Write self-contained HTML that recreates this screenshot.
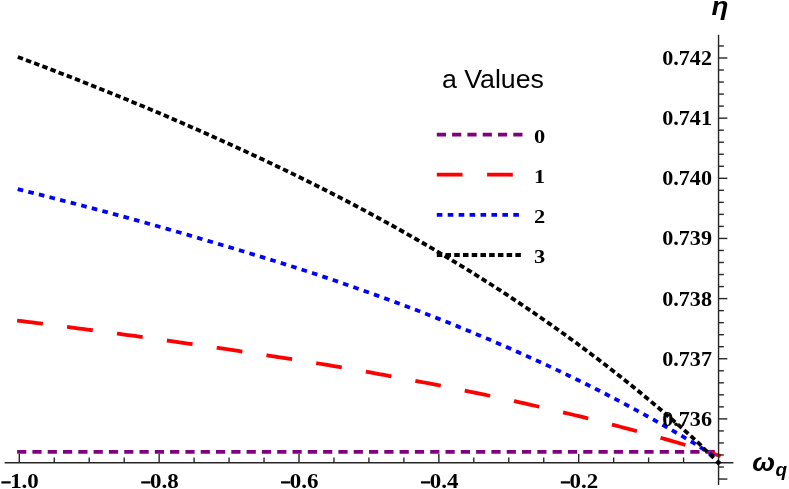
<!DOCTYPE html>
<html><head><meta charset="utf-8"><title>plot</title>
<style>
html,body{margin:0;padding:0;background:#fff;}
body{width:789px;height:489px;overflow:hidden;}
svg{display:block;will-change:transform;}
text{font-family:"Liberation Serif",serif;font-weight:bold;fill:#000;}
.sans{font-family:"Liberation Sans",sans-serif;}
</style></head><body>
<svg width="789" height="489" viewBox="0 0 789 489">
<rect width="789" height="489" fill="#fff"/>

<g fill="none" stroke-linecap="butt" stroke-linejoin="round">
<path d="M17.1,451.85 L718.55,451.85" stroke="#800080" stroke-width="3.8" stroke-dasharray="9.2 6.1"/>
<path d="M17.15,320.59 L22.18,321.21 L27.20,321.84 L32.23,322.46 L37.25,323.10 L42.28,323.73 L47.30,324.37 L52.33,325.01 L57.35,325.65 L62.38,326.30 L67.40,326.95 L72.43,327.61 L77.45,328.26 L82.48,328.92 L87.50,329.59 L92.53,330.25 L97.56,330.92 L102.58,331.60 L107.61,332.27 L112.63,332.95 L117.66,333.63 L122.68,334.32 L127.71,335.01 L132.73,335.70 L137.76,336.40 L142.78,337.10 L147.81,337.80 L152.83,338.51 L157.86,339.22 L162.89,339.93 L167.91,340.65 L172.94,341.37 L177.96,342.09 L182.99,342.82 L188.01,343.55 L193.04,344.29 L198.06,345.02 L203.09,345.77 L208.11,346.51 L213.14,347.25 L218.16,347.99 L223.19,348.74 L228.22,349.48 L233.24,350.23 L238.27,350.98 L243.29,351.73 L248.32,352.48 L253.34,353.23 L258.37,353.99 L263.39,354.76 L268.42,355.52 L273.44,356.30 L278.47,357.07 L283.49,357.85 L288.52,358.64 L293.54,359.43 L298.57,360.23 L303.60,361.04 L308.62,361.85 L313.65,362.67 L318.67,363.50 L323.70,364.33 L328.72,365.18 L333.75,366.03 L338.77,366.89 L343.80,367.76 L348.82,368.64 L353.85,369.52 L358.87,370.41 L363.90,371.30 L368.93,372.20 L373.95,373.10 L378.98,374.01 L384.00,374.93 L389.03,375.85 L394.05,376.78 L399.08,377.72 L404.10,378.66 L409.13,379.61 L414.15,380.56 L419.18,381.53 L424.20,382.50 L429.23,383.47 L434.25,384.45 L439.28,385.44 L444.31,386.44 L449.33,387.44 L454.36,388.46 L459.38,389.48 L464.41,390.50 L469.43,391.54 L474.46,392.58 L479.48,393.63 L484.51,394.69 L489.53,395.75 L494.56,396.83 L499.58,397.91 L504.61,399.00 L509.64,400.10 L514.66,401.21 L519.69,402.33 L524.71,403.45 L529.74,404.59 L534.76,405.73 L539.79,406.89 L544.81,408.05 L549.84,409.22 L554.86,410.41 L559.89,411.60 L564.91,412.80 L569.94,414.01 L574.96,415.24 L579.99,416.47 L585.02,417.71 L590.04,418.97 L595.07,420.23 L600.09,421.51 L605.12,422.79 L610.14,424.09 L615.17,425.40 L620.19,426.72 L625.22,428.05 L630.24,429.40 L635.27,430.75 L640.29,432.12 L645.32,433.50 L650.35,434.89 L655.37,436.30 L660.40,437.71 L665.42,439.14 L670.45,440.59 L675.47,442.04 L680.50,443.51 L685.52,444.99 L690.55,446.49 L695.57,448.00 L700.60,449.59 L705.62,451.34 L710.65,452.89 L715.67,454.46 L720.70,456.04" stroke="#ff0000" stroke-width="3.8" stroke-dasharray="25.9 24.45"/>
<path d="M17.70,189.16 L22.71,190.40 L27.71,191.65 L32.72,192.90 L37.72,194.16 L42.73,195.43 L47.74,196.70 L52.74,197.98 L57.75,199.26 L62.75,200.55 L67.76,201.85 L72.77,203.15 L77.77,204.46 L82.78,205.78 L87.78,207.10 L92.79,208.43 L97.80,209.76 L102.80,211.10 L107.81,212.45 L112.82,213.80 L117.82,215.16 L122.83,216.53 L127.83,217.90 L132.84,219.28 L137.85,220.67 L142.85,222.06 L147.86,223.47 L152.86,224.87 L157.87,226.29 L162.88,227.71 L167.88,229.14 L172.89,230.57 L177.89,232.01 L182.90,233.46 L187.91,234.92 L192.91,236.39 L197.92,237.86 L202.92,239.34 L207.93,240.82 L212.94,242.30 L217.94,243.78 L222.95,245.27 L227.95,246.77 L232.96,248.26 L237.97,249.77 L242.97,251.27 L247.98,252.79 L252.99,254.31 L257.99,255.84 L263.00,257.37 L268.00,258.91 L273.01,260.47 L278.02,262.03 L283.02,263.60 L288.03,265.18 L293.03,266.77 L298.04,268.38 L303.05,269.99 L308.05,271.62 L313.06,273.26 L318.06,274.92 L323.07,276.59 L328.08,278.28 L333.08,279.98 L338.09,281.69 L343.09,283.43 L348.10,285.17 L353.11,286.93 L358.11,288.69 L363.12,290.47 L368.12,292.26 L373.13,294.06 L378.14,295.87 L383.14,297.70 L388.15,299.53 L393.16,301.38 L398.16,303.25 L403.17,305.12 L408.17,307.01 L413.18,308.91 L418.19,310.82 L423.19,312.75 L428.20,314.69 L433.20,316.65 L438.21,318.61 L443.22,320.60 L448.22,322.60 L453.23,324.61 L458.23,326.63 L463.24,328.68 L468.25,330.73 L473.25,332.81 L478.26,334.89 L483.26,337.00 L488.27,339.12 L493.28,341.26 L498.28,343.41 L503.29,345.58 L508.29,347.77 L513.30,349.97 L518.31,352.19 L523.31,354.43 L528.32,356.69 L533.33,358.96 L538.33,361.26 L543.34,363.57 L548.34,365.90 L553.35,368.25 L558.36,370.62 L563.36,373.01 L568.37,375.42 L573.37,377.85 L578.38,380.30 L583.39,382.77 L588.39,385.26 L593.40,387.77 L598.40,390.31 L603.41,392.86 L608.42,395.44 L613.42,398.04 L618.43,400.66 L623.43,403.31 L628.44,405.98 L633.45,408.67 L638.45,411.39 L643.46,414.13 L648.46,416.89 L653.47,419.68 L658.48,422.49 L663.48,425.33 L668.49,428.20 L673.50,431.09 L678.50,434.00 L683.51,436.95 L688.51,439.92 L693.52,442.91 L698.53,445.94 L703.53,449.42 L708.54,452.63 L713.54,455.74 L718.55,458.87" stroke="#0000ff" stroke-width="3.8" stroke-dasharray="5.6 5.33"/>
<path d="M17.80,56.95 L22.78,58.80 L27.76,60.67 L32.74,62.54 L37.73,64.42 L42.71,66.31 L47.69,68.20 L52.67,70.11 L57.65,72.03 L62.63,73.96 L67.61,75.89 L72.60,77.84 L77.58,79.79 L82.56,81.75 L87.54,83.72 L92.52,85.71 L97.50,87.70 L102.48,89.70 L107.47,91.71 L112.45,93.73 L117.43,95.76 L122.41,97.80 L127.39,99.85 L132.37,101.91 L137.35,103.98 L142.34,106.06 L147.32,108.15 L152.30,110.24 L157.28,112.35 L162.26,114.47 L167.24,116.60 L172.22,118.75 L177.21,120.90 L182.19,123.06 L187.17,125.23 L192.15,127.42 L197.13,129.61 L202.11,131.82 L207.09,134.03 L212.08,136.26 L217.06,138.49 L222.04,140.74 L227.02,142.99 L232.00,145.26 L236.98,147.54 L241.96,149.82 L246.95,152.12 L251.93,154.43 L256.91,156.76 L261.89,159.09 L266.87,161.44 L271.85,163.80 L276.83,166.18 L281.82,168.57 L286.80,170.97 L291.78,173.39 L296.76,175.82 L301.74,178.27 L306.72,180.73 L311.70,183.21 L316.69,185.70 L321.67,188.21 L326.65,190.74 L331.63,193.29 L336.61,195.85 L341.59,198.43 L346.57,201.03 L351.56,203.65 L356.54,206.28 L361.52,208.93 L366.50,211.59 L371.48,214.27 L376.46,216.97 L381.44,219.69 L386.43,222.43 L391.41,225.18 L396.39,227.95 L401.37,230.74 L406.35,233.55 L411.33,236.38 L416.31,239.23 L421.30,242.10 L426.28,244.99 L431.26,247.90 L436.24,250.83 L441.22,253.78 L446.20,256.76 L451.18,259.75 L456.17,262.77 L461.15,265.81 L466.13,268.87 L471.11,271.95 L476.09,275.06 L481.07,278.19 L486.05,281.34 L491.04,284.52 L496.02,287.72 L501.00,290.95 L505.98,294.20 L510.96,297.48 L515.94,300.78 L520.92,304.11 L525.91,307.47 L530.89,310.85 L535.87,314.26 L540.85,317.70 L545.83,321.17 L550.81,324.66 L555.79,328.18 L560.78,331.73 L565.76,335.31 L570.74,338.93 L575.72,342.57 L580.70,346.24 L585.68,349.94 L590.66,353.67 L595.65,357.44 L600.63,361.23 L605.61,365.06 L610.59,368.92 L615.57,372.82 L620.55,376.75 L625.53,380.71 L630.52,384.71 L635.50,388.74 L640.48,392.81 L645.46,396.92 L650.44,401.06 L655.42,405.23 L660.40,409.45 L665.39,413.70 L670.37,417.99 L675.35,422.32 L680.33,426.69 L685.31,431.09 L690.29,435.54 L695.27,440.03 L700.26,444.72 L705.24,449.95 L710.22,454.58 L715.20,459.23" stroke="#000000" stroke-width="3.8" stroke-dasharray="5.5 3.23"/>
</g>
<g stroke="#262626" stroke-width="1.4" fill="none">
<line x1="4.6" y1="462.8" x2="733.4" y2="462.8"/>
<line x1="718.55" y1="34.7" x2="718.55" y2="484.9"/>
<line x1="19.30" y1="462.8" x2="19.30" y2="454.00"/>
<line x1="54.26" y1="462.8" x2="54.26" y2="457.50"/>
<line x1="89.22" y1="462.8" x2="89.22" y2="457.50"/>
<line x1="124.19" y1="462.8" x2="124.19" y2="457.50"/>
<line x1="159.15" y1="462.8" x2="159.15" y2="454.00"/>
<line x1="194.11" y1="462.8" x2="194.11" y2="457.50"/>
<line x1="229.07" y1="462.8" x2="229.07" y2="457.50"/>
<line x1="264.04" y1="462.8" x2="264.04" y2="457.50"/>
<line x1="299.00" y1="462.8" x2="299.00" y2="454.00"/>
<line x1="333.96" y1="462.8" x2="333.96" y2="457.50"/>
<line x1="368.93" y1="462.8" x2="368.93" y2="457.50"/>
<line x1="403.89" y1="462.8" x2="403.89" y2="457.50"/>
<line x1="438.85" y1="462.8" x2="438.85" y2="454.00"/>
<line x1="473.81" y1="462.8" x2="473.81" y2="457.50"/>
<line x1="508.77" y1="462.8" x2="508.77" y2="457.50"/>
<line x1="543.74" y1="462.8" x2="543.74" y2="457.50"/>
<line x1="578.70" y1="462.8" x2="578.70" y2="454.00"/>
<line x1="613.66" y1="462.8" x2="613.66" y2="457.50"/>
<line x1="648.62" y1="462.8" x2="648.62" y2="457.50"/>
<line x1="683.59" y1="462.8" x2="683.59" y2="457.50"/>
<line x1="718.55" y1="479.05" x2="727.35" y2="479.05"/>
<line x1="718.55" y1="467.02" x2="723.85" y2="467.02"/>
<line x1="718.55" y1="454.99" x2="723.85" y2="454.99"/>
<line x1="718.55" y1="442.96" x2="723.85" y2="442.96"/>
<line x1="718.55" y1="430.93" x2="723.85" y2="430.93"/>
<line x1="718.55" y1="418.90" x2="727.35" y2="418.90"/>
<line x1="718.55" y1="406.87" x2="723.85" y2="406.87"/>
<line x1="718.55" y1="394.84" x2="723.85" y2="394.84"/>
<line x1="718.55" y1="382.81" x2="723.85" y2="382.81"/>
<line x1="718.55" y1="370.78" x2="723.85" y2="370.78"/>
<line x1="718.55" y1="358.75" x2="727.35" y2="358.75"/>
<line x1="718.55" y1="346.72" x2="723.85" y2="346.72"/>
<line x1="718.55" y1="334.69" x2="723.85" y2="334.69"/>
<line x1="718.55" y1="322.66" x2="723.85" y2="322.66"/>
<line x1="718.55" y1="310.63" x2="723.85" y2="310.63"/>
<line x1="718.55" y1="298.60" x2="727.35" y2="298.60"/>
<line x1="718.55" y1="286.57" x2="723.85" y2="286.57"/>
<line x1="718.55" y1="274.54" x2="723.85" y2="274.54"/>
<line x1="718.55" y1="262.51" x2="723.85" y2="262.51"/>
<line x1="718.55" y1="250.48" x2="723.85" y2="250.48"/>
<line x1="718.55" y1="238.45" x2="727.35" y2="238.45"/>
<line x1="718.55" y1="226.42" x2="723.85" y2="226.42"/>
<line x1="718.55" y1="214.39" x2="723.85" y2="214.39"/>
<line x1="718.55" y1="202.36" x2="723.85" y2="202.36"/>
<line x1="718.55" y1="190.33" x2="723.85" y2="190.33"/>
<line x1="718.55" y1="178.30" x2="727.35" y2="178.30"/>
<line x1="718.55" y1="166.27" x2="723.85" y2="166.27"/>
<line x1="718.55" y1="154.24" x2="723.85" y2="154.24"/>
<line x1="718.55" y1="142.21" x2="723.85" y2="142.21"/>
<line x1="718.55" y1="130.18" x2="723.85" y2="130.18"/>
<line x1="718.55" y1="118.15" x2="727.35" y2="118.15"/>
<line x1="718.55" y1="106.12" x2="723.85" y2="106.12"/>
<line x1="718.55" y1="94.09" x2="723.85" y2="94.09"/>
<line x1="718.55" y1="82.06" x2="723.85" y2="82.06"/>
<line x1="718.55" y1="70.03" x2="723.85" y2="70.03"/>
<line x1="718.55" y1="58.00" x2="727.35" y2="58.00"/>
<line x1="718.55" y1="45.97" x2="723.85" y2="45.97"/>
</g>
<polygon points="714.9,462.5 718.3,459.4 721.6,462.5 718.3,465.5" fill="#000"/>
<rect x="1.40" y="481.3" width="9.3" height="2.2" fill="#000"/>
<text transform="translate(10.15,488.1) scale(1.147,1)" font-size="20">1.0</text>
<rect x="141.25" y="481.3" width="9.3" height="2.2" fill="#000"/>
<text transform="translate(150.00,488.1) scale(1.147,1)" font-size="20">0.8</text>
<rect x="281.10" y="481.3" width="9.3" height="2.2" fill="#000"/>
<text transform="translate(289.85,488.1) scale(1.147,1)" font-size="20">0.6</text>
<rect x="420.95" y="481.3" width="9.3" height="2.2" fill="#000"/>
<text transform="translate(429.70,488.1) scale(1.147,1)" font-size="20">0.4</text>
<rect x="560.80" y="481.3" width="9.3" height="2.2" fill="#000"/>
<text transform="translate(569.55,488.1) scale(1.147,1)" font-size="20">0.2</text>
<text x="712.0" y="65.00" font-size="20" text-anchor="end" textLength="49.8" lengthAdjust="spacingAndGlyphs">0.742</text>
<text x="712.0" y="125.15" font-size="20" text-anchor="end" textLength="49.8" lengthAdjust="spacingAndGlyphs">0.741</text>
<text x="712.0" y="185.30" font-size="20" text-anchor="end" textLength="49.8" lengthAdjust="spacingAndGlyphs">0.740</text>
<text x="712.0" y="245.45" font-size="20" text-anchor="end" textLength="49.8" lengthAdjust="spacingAndGlyphs">0.739</text>
<text x="712.0" y="305.60" font-size="20" text-anchor="end" textLength="49.8" lengthAdjust="spacingAndGlyphs">0.738</text>
<text x="712.0" y="365.75" font-size="20" text-anchor="end" textLength="49.8" lengthAdjust="spacingAndGlyphs">0.737</text>
<text x="712.0" y="425.90" font-size="20" text-anchor="end" textLength="49.8" lengthAdjust="spacingAndGlyphs">0.736</text>
<text class="sans" transform="translate(441.9,88.0) scale(1.049,1)" font-size="25.5" style="font-weight:normal">a Values</text>
<g fill="none">
<path d="M436.8,134.6 L522.9,134.6" stroke="#800080" stroke-width="3.8" stroke-dasharray="9.2 6.1"/>
<path d="M436.8,174.7 L522.9,174.7" stroke="#ff0000" stroke-width="3.8" stroke-dasharray="25.7 24.6"/>
<path d="M436.8,214.8 L522.9,214.8" stroke="#0000ff" stroke-width="3.8" stroke-dasharray="5.6 5.33"/>
<path d="M436.8,255.0 L522.9,255.0" stroke="#000000" stroke-width="3.8" stroke-dasharray="5.5 3.23"/>
</g>
<text transform="translate(534.0,142.70) scale(1.18,1)" font-size="19">0</text>
<text transform="translate(534.0,182.80) scale(1.18,1)" font-size="19">1</text>
<text transform="translate(534.0,222.90) scale(1.18,1)" font-size="19">2</text>
<text transform="translate(534.0,263.10) scale(1.18,1)" font-size="19">3</text>
<text class="sans" transform="translate(711.5,14.8) scale(1.068,1)" font-size="26" font-style="italic">η</text>
<text class="sans" transform="translate(752.3,470.9) scale(1.069,1)" font-size="25.5" font-style="italic">ω</text>
<text class="sans" x="775.56" y="475.7" font-size="18.9" font-style="italic">q</text>
</svg></body></html>
